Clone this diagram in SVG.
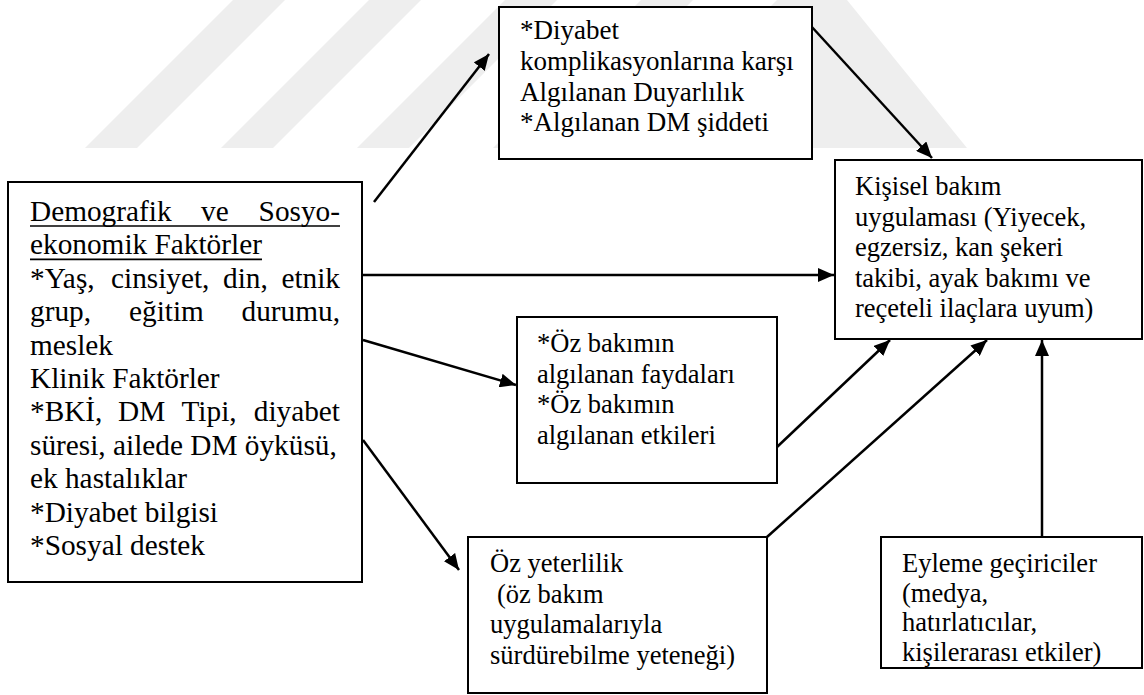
<svg xmlns="http://www.w3.org/2000/svg" width="1144" height="695" viewBox="0 0 1144 695">
<style>
.box{fill:#fff;stroke:#000;stroke-width:2}
.t{font-family:"Liberation Serif","Times New Roman",serif;fill:#000}
.a{font-size:29.3px}
.s{font-size:26.5px}
.b{font-size:27px}
.wm{fill:#eeeeee}
.c{stroke:#000;stroke-width:2.5;fill:none;marker-end:url(#ah)}
</style>
<defs>
<marker id="ah" markerWidth="17" markerHeight="14" refX="16" refY="7" orient="auto" markerUnits="userSpaceOnUse">
<path d="M0,0 L16,7 L0,14 Z" fill="#000"/>
</marker>
</defs>
<rect width="1144" height="695" fill="#fff"/>
<g id="watermark">
<polygon class="wm" points="85,148 137,148 285,0 233,0"/>
<polygon class="wm" points="221,148 273,148 421,0 369,0"/>
<polygon class="wm" points="357,148 409,148 557,0 505,0"/>
<polygon class="wm" points="493,148 545,148 693,0 641,0"/>
<polygon class="wm" points="629,148 967,148 847,0 777,0"/>
</g>
<g id="connectors">
<line class="c" x1="374" y1="202" x2="489" y2="54"/>
<line class="c" x1="811" y1="26" x2="932" y2="158"/>
<line class="c" x1="363" y1="275" x2="834" y2="275"/>
<line class="c" x1="363" y1="340" x2="516" y2="385"/>
<line class="c" x1="363" y1="440" x2="459" y2="570"/>
<line class="c" x1="777" y1="447" x2="890" y2="340"/>
<line class="c" x1="767" y1="537" x2="987" y2="340"/>
<line class="c" x1="1042" y1="537" x2="1042" y2="340"/>
</g>
<g id="node-demografik">
<rect class="box" x="8" y="182" width="354" height="400"/>
<text class="t a" y="221"><tspan x="30">Demografik</tspan><tspan x="201">ve</tspan><tspan x="340" text-anchor="end">Sosyo-</tspan></text>
<line x1="30" y1="226" x2="340" y2="226" stroke="#000" stroke-width="1.6"/>
<text class="t a" x="30" y="254.4">ekonomik Faktörler</text>
<line x1="30" y1="259.4" x2="262" y2="259.4" stroke="#000" stroke-width="1.6"/>
<text class="t a" y="287.8"><tspan x="30">*Yaş,</tspan><tspan x="111">cinsiyet,</tspan><tspan x="223">din,</tspan><tspan x="340" text-anchor="end">etnik</tspan></text>
<text class="t a" y="321.2"><tspan x="30">grup,</tspan><tspan x="129">eğitim</tspan><tspan x="340" text-anchor="end">durumu,</tspan></text>
<text class="t a" x="30" y="354.6">meslek</text>
<text class="t a" x="30" y="388">Klinik Faktörler</text>
<text class="t a" y="421.4"><tspan x="30">*BKİ,</tspan><tspan x="118">DM</tspan><tspan x="181.5">Tipi,</tspan><tspan x="340" text-anchor="end">diyabet</tspan></text>
<text class="t a" x="30" y="454.8">süresi, ailede DM öyküsü,</text>
<text class="t a" x="30" y="488.2">ek hastalıklar</text>
<text class="t a" x="30" y="521.6">*Diyabet bilgisi</text>
<text class="t a" x="30" y="555">*Sosyal destek</text>
</g>
<g id="node-duyarlilik">
<rect class="box" x="499" y="7" width="313" height="152"/>
<text class="t b" x="520" y="39">*Diyabet</text>
<text class="t b" x="520" y="70">komplikasyonlarına karşı</text>
<text class="t b" x="520" y="100.5">Algılanan Duyarlılık</text>
<text class="t b" x="520" y="131">*Algılanan DM şiddeti</text>
</g>
<g id="node-kisisel">
<rect class="box" x="835" y="160" width="307" height="179"/>
<text class="t s" x="855" y="195">Kişisel bakım</text>
<text class="t s" x="855" y="225.5">uygulaması (Yiyecek,</text>
<text class="t s" x="855" y="256">egzersiz, kan şekeri</text>
<text class="t s" x="855" y="286.5">takibi, ayak bakımı ve</text>
<text class="t s" x="855" y="317">reçeteli ilaçlara uyum)</text>
</g>
<g id="node-ozbakim">
<rect class="box" x="517" y="317" width="260" height="166"/>
<text class="t s" x="537" y="352">*Öz bakımın</text>
<text class="t s" x="537" y="382.5">algılanan faydaları</text>
<text class="t s" x="537" y="413">*Öz bakımın</text>
<text class="t s" x="537" y="443.5">algılanan etkileri</text>
</g>
<g id="node-ozyeterlilik">
<rect class="box" x="468" y="537" width="299" height="156"/>
<text class="t s" x="490" y="572">Öz yeterlilik</text>
<text class="t s" x="497" y="602.5">(öz bakım</text>
<text class="t s" x="490" y="633">uygulamalarıyla</text>
<text class="t s" x="490" y="663.5">sürdürebilme yeteneği)</text>
</g>
<g id="node-eyleme">
<rect class="box" x="881" y="537" width="261" height="131"/>
<text class="t s" x="902" y="572">Eyleme geçiriciler</text>
<text class="t s" x="902" y="601.5">(medya,</text>
<text class="t s" x="902" y="631">hatırlatıcılar,</text>
<text class="t s" x="902" y="660.5">kişilerarası etkiler)</text>
</g>
</svg>
